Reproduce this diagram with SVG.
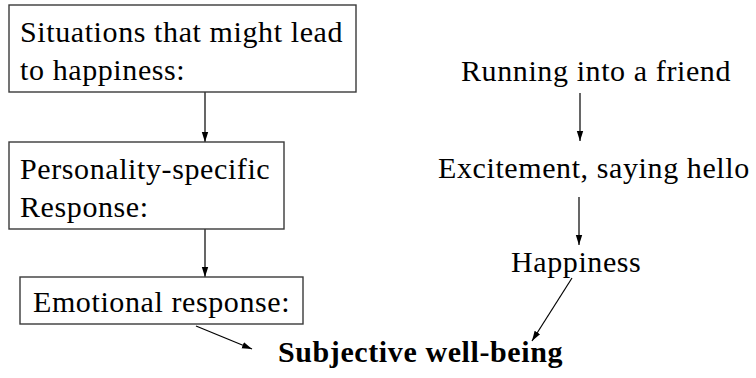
<svg xmlns="http://www.w3.org/2000/svg" width="756" height="378" viewBox="0 0 756 378">
<style>
.box{fill:#fff;stroke:#3a3a3a;stroke-width:1.4}
.c{stroke:#000;stroke-width:1.2;fill:none;marker-end:url(#ah)}
</style>
<defs>
<marker id="ah" markerUnits="userSpaceOnUse" markerWidth="10" markerHeight="10" viewBox="0 0 10 10" refX="10" refY="5" orient="auto">
<path d="M0,1.8 L10,5 L0,8.2 Z" fill="#000"/>
</marker>
</defs>
<rect width="756" height="378" fill="#fff"/>
<g id="connectors">
<line class="c" x1="205" y1="92" x2="205" y2="142"/>
<line class="c" x1="205" y1="229" x2="205" y2="277"/>
<line class="c" x1="196" y1="326" x2="252" y2="349"/>
<line class="c" x1="580" y1="93" x2="580" y2="141"/>
<line class="c" x1="579" y1="197" x2="579" y2="245"/>
<line class="c" x1="572" y1="278" x2="532" y2="341"/>
</g>
<g font-family="Liberation Serif" font-size="30" letter-spacing="0.6" fill="#000">
<g id="situations">
<rect class="box" x="9" y="5" width="347" height="87"/>
<text x="20" y="42">Situations that might lead</text>
<text x="20" y="80">to happiness:</text>
</g>
<g id="personality">
<rect class="box" x="9" y="142" width="275" height="87"/>
<text x="20" y="179">Personality-specific</text>
<text x="20" y="217">Response:</text>
</g>
<g id="emotional">
<rect class="box" x="20" y="277" width="283" height="47"/>
<text x="33" y="312">Emotional response:</text>
</g>
<g id="running">
<text x="461" y="81">Running into a friend</text>
</g>
<g id="excitement">
<text x="438" y="178">Excitement, saying hello</text>
</g>
<g id="happiness">
<text x="511" y="272">Happiness</text>
</g>
<g id="swb">
<text x="278" y="362" font-weight="bold">Subjective well-being</text>
</g>
</g>
</svg>
